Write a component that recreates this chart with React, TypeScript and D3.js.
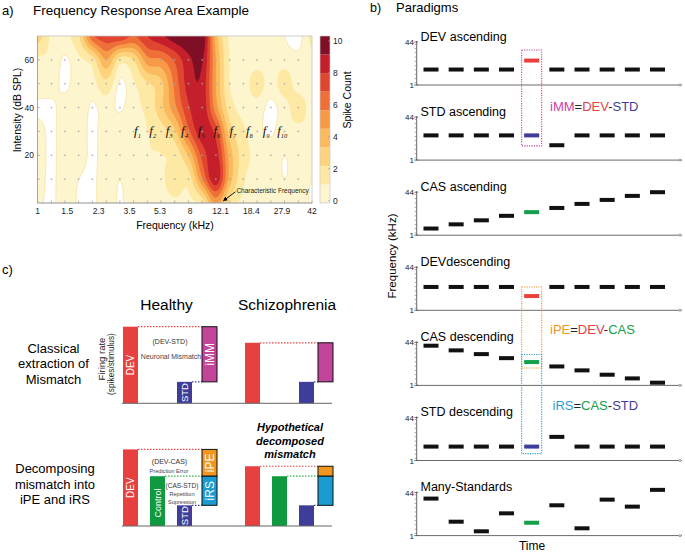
import React from 'react';
import * as d3 from 'd3';

const FONT = "'Liberation Sans', Arial, Helvetica, sans-serif";
const SERIF = "'Liberation Serif', 'Times New Roman', serif";

// ---------------- Panel a: Frequency Response Area ----------------
const freqGrid = [1, 1.21, 1.45, 1.75, 2.11, 2.55, 3.07, 3.7, 4.46, 5.38, 6.48, 7.81, 9.42, 11.35, 13.69, 16.5, 19.89, 23.98, 28.9, 34.84, 42];
const intensityGrid = [70, 60, 50, 40, 30, 20, 10, 0];
const spikeAt70 = [2.8, 0.8, 0.8, 2.0, 6.5, 7.5, 7.8, 6.8, 8.0, 8.9, 9.8, 10.3, 10.2, 4.0, 0.8, 0.7, 0.7, 0.7, 0.3, 0.0, 1.3];
const spikeAt60 = [0.8, 0.8, 0.2, 0.8, 1.6, 4.5, 1.6, 2.2, 5.2, 5.5, 7.0, 8.8, 9.3, 4.5, 1.0, 0.7, 0.7, 0.7, 0.7, 0.5, 0.7];
const spikeAt50 = [0.8, 0.7, 0.1, 0.8, 0.7, 1.8, 0.2, 0.9, 2.0, 3.0, 6.0, 8.5, 8.8, 4.5, 1.0, 0.7, 1.4, 0.7, 1.4, 0.7, 0.7];
const spikeAt40 = [0.1, 0.1, 0.7, 0.8, 0.2, 0.6, 0.2, 0.8, 1.3, 3.0, 5.3, 7.8, 8.8, 5.0, 1.6, 0.7, 0.7, 0.1, 0.7, 1.4, 0.7];
const spikeAt30 = [0.7, 0.1, 0.8, 0.8, 0.1, 0.8, 0.8, 0.8, 1.0, 1.6, 3.0, 6.5, 8.7, 7.5, 2.8, 1.2, 0.5, 0.2, 0.7, 0.8, 0.8];
const spikeAt20 = [0.8, 0.1, 0.8, 0.8, 0.1, 0.8, 0.6, 0.8, 1.0, 1.0, 1.4, 3.5, 7.2, 8.5, 4.0, 1.6, 0.7, 0.7, 0.3, 0.7, 0.7];
const spikeAt10 = [0.7, 0.1, 0.8, 0.3, 0.1, 0.8, 0.3, 0.8, 1.0, 0.8, 1.8, 1.5, 5.5, 8.8, 4.0, 1.2, 0.7, 0.8, 0.3, 0.7, 0.3];
const spikeAt0 = [0.5, 0.1, 0.8, 0.2, 0.1, 0.8, 0.2, 0.8, 0.8, 0.7, 0.8, 0.8, 1.5, 5.0, 1.8, 0.8, 0.7, 0.8, 0.7, 0.7, 0.2];
const freqTickLabels = [1, 1.5, 2.3, 3.5, 5.3, 8, 12.1, 18.4, 27.9, 42];
const intensityTicks = [20, 40, 60];
const intensityMinorTicks = [10, 20, 30, 40, 50, 60];
const colorbarTicks = [0, 2, 4, 6, 8, 10];
const spikeLevels = [-0.14, 1.02, 2.18, 3.34, 4.5, 5.66, 6.82, 7.98, 9.14, 10.3];
const whiteCutoff = 0.3;
const levelColors = ['#fdf5cd', '#fde8a4', '#fdd47d', '#fbba5d', '#f69a47', '#ee7038', '#e0452f', '#c41f2b', '#7e0f24'];
const toneLabelNames = ['1', '2', '3', '4', '5', '6', '7', '8', '9', '10'];
const toneLabelFreqs = [3.9, 4.8, 6.0, 7.4, 9.3, 11.5, 14.3, 17.9, 22.5, 28.0];
const toneLabelIntensity = 30;
const characteristicFreq = 12.4;
const characteristicIntensity = 0.5;

// ---------------- Panel b: Paradigms ----------------
const toneIndex = [1, 2, 3, 4, 5, 6, 7, 8, 9, 10];
const paradigmNames = ['DEV ascending', 'STD ascending', 'CAS ascending', 'DEVdescending', 'CAS descending', 'STD descending', 'Many-Standards'];
const devAscending = [3.9, 3.9, 3.9, 3.9, 8.6, 3.9, 3.9, 3.9, 3.9, 3.9];
const stdAscending = [8.8, 8.8, 8.8, 8.8, 8.8, 3.7, 8.8, 8.8, 8.8, 8.8];
const casAscending = [1.8, 2.6, 3.7, 5.5, 7.6, 11, 15.7, 22.3, 31.8, 44];
const devDescending = [7.8, 7.8, 7.8, 7.8, 3.5, 7.8, 7.8, 7.8, 7.8, 7.8];
const casDescending = [32.9, 21.8, 15.7, 11.0, 7.8, 5.3, 3.75, 2.56, 1.85, 1.27];
const stdDescending = [3.4, 3.4, 3.4, 3.4, 3.4, 8.0, 3.4, 3.4, 3.4, 3.4];
const manyStandards = [26, 3.4, 1.46, 7.1, 3.1, 14.4, 1.9, 23.7, 12.8, 56];
const highlightRole = ['DEV', 'STD', 'CAS', 'DEV', 'CAS', 'STD', 'CAS'];
const highlightTone = 5;
const freqAxisLabels = [44, 1];

// ---------------- Panel c: Mismatch ----------------
const groups = ['Healthy', 'Schizophrenia'];
const barCategories = ['DEV', 'Control', 'STD'];
const classicalDEV = [10, 7.9];
const classicalSTD = [2.8, 2.8];
const decompDEV = [10, 7.8];
const decompControl = [6.5, 6.5];
const decompSTD = [2.7, 2.7];

const C_RED = '#e8403f';
const C_BLUE = '#3e3d9a';
const C_GREEN = '#0f9a40';
const C_MAG = '#c0449a';
const C_ORANGE = '#f0961e';
const C_CYAN = '#1a9bd1';

function upsample(grid: number[][], K: number) {
  const rows = grid.length, cols = grid[0].length;
  const nx = (cols - 1) * K + 1, ny = (rows - 1) * K + 1;
  const get = (r: number, c: number) => grid[Math.max(0, Math.min(rows - 1, r))][Math.max(0, Math.min(cols - 1, c))];
  const cub = (p0: number, p1: number, p2: number, p3: number, t: number) =>
    p1 + 0.5 * t * (p2 - p0 + t * (2 * p0 - 5 * p1 + 4 * p2 - p3 + t * (3 * (p1 - p2) + p3 - p0)));
  const out: number[] = new Array(nx * ny);
  for (let j = 0; j < ny; j++) {
    const fy = j / K;
    const r = Math.min(Math.floor(fy), rows - 2);
    const ty = fy - r;
    for (let i = 0; i < nx; i++) {
      const fx = i / K;
      const c = Math.min(Math.floor(fx), cols - 2);
      const tx = fx - c;
      const rv = [-1, 0, 1, 2].map(d => cub(get(r + d, c - 1), get(r + d, c), get(r + d, c + 1), get(r + d, c + 2), tx));
      out[j * nx + i] = cub(rv[0], rv[1], rv[2], rv[3], ty);
    }
  }
  return { values: out, nx, ny };
}

function PanelA() {
  const x0 = 37.5, x1 = 312, yTop = 36, yBot = 203;
  const xScale = d3.scaleLog().domain([1, 42]).range([x0, x1]);
  const yScale = d3.scaleLinear().domain([0, 70]).range([yBot, yTop]);
  const grid = [spikeAt70, spikeAt60, spikeAt50, spikeAt40, spikeAt30, spikeAt20, spikeAt10, spikeAt0];
  const K = 6;
  const { values, nx, ny } = upsample(grid, K);
  const thresholds = [whiteCutoff, ...spikeLevels.slice(1, 9)];
  const contours = d3.contours().size([nx, ny]).thresholds(thresholds)(values);
  const gx0 = xScale(freqGrid[0]), gx1 = xScale(freqGrid[freqGrid.length - 1]);
  const gy0 = yScale(intensityGrid[0]), gy1 = yScale(intensityGrid[intensityGrid.length - 1]);
  const dxu = (gx1 - gx0) / (nx - 1);
  const dyu = (gy1 - gy0) / (ny - 1);
  const proj = d3.geoTransform({
    point(x: number, y: number) {
      (this as any).stream.point(gx0 + (x - 0.5) * dxu, gy0 + (y - 0.5) * dyu);
    },
  });
  const path = d3.geoPath(proj as any);
  const cbX = 320, cbW = 10;
  const cbScale = d3.scaleLinear().domain([spikeLevels[0], spikeLevels[spikeLevels.length - 1]]).range([yBot, yTop]);
  const tipX = xScale(characteristicFreq), tipY = yScale(characteristicIntensity);

  return (
    <g>
      <text x={2} y={14.5} fontSize={13}>a)</text>
      <text x={33} y={14.5} fontSize={13.5}>Frequency Response Area Example</text>
      <defs>
        <clipPath id="fraClip"><rect x={x0} y={yTop} width={x1 - x0} height={yBot - yTop} /></clipPath>
        <marker id="arrowHead" viewBox="0 0 10 10" refX={9} refY={5} markerWidth={5} markerHeight={5} orient="auto">
          <path d="M0,0 L10,5 L0,10 z" fill="#000" />
        </marker>
      </defs>
      <g clipPath="url(#fraClip)">
        {contours.map((c, i) => (
          <path key={i} d={path(c as any) || ''} fill={levelColors[i]}
            stroke={i === 0 ? '#f8df98' : 'none'} strokeWidth={0.7} />
        ))}
      </g>
      {freqGrid.slice(1, -1).map((f, i) =>
        intensityMinorTicks.map(db => (
          <g key={`g${i}-${db}`} stroke="#a8a8a8" strokeWidth={0.6}>
            <line x1={xScale(f) - 1} x2={xScale(f) + 1} y1={yScale(db)} y2={yScale(db)} />
            <line x1={xScale(f)} x2={xScale(f)} y1={yScale(db) - 1} y2={yScale(db) + 1} />
          </g>
        )))}
      <rect x={x0} y={yTop} width={x1 - x0} height={yBot - yTop} fill="none" stroke="#c4c4c4" strokeWidth={0.8} />
      <line x1={x0} x2={x1} y1={yBot} y2={yBot} stroke="#9a9a9a" strokeWidth={0.8} />
      <line x1={x0} x2={x0} y1={yTop} y2={yBot} stroke="#9a9a9a" strokeWidth={0.8} />
      {freqGrid.map((f, i) => (
        <line key={`bt${i}`} x1={xScale(f)} x2={xScale(f)} y1={yBot} y2={yBot - 2.5} stroke="#999" strokeWidth={0.7} />
      ))}
      {intensityMinorTicks.map(db => (
        <line key={`lt${db}`} x1={x0} x2={x0 + 2.5} y1={yScale(db)} y2={yScale(db)} stroke="#999" strokeWidth={0.7} />
      ))}
      {freqTickLabels.map(f => (
        <text key={`fl${f}`} x={xScale(f)} y={214} fontSize={8.5} textAnchor="middle" fill="#222">{f}</text>
      ))}
      {intensityTicks.map(db => (
        <text key={`il${db}`} x={34} y={yScale(db) + 3} fontSize={8.5} textAnchor="end" fill="#222">{db}</text>
      ))}
      <text x={175} y={229} fontSize={10.5} textAnchor="middle">Frequency (kHz)</text>
      <text transform={`translate(21,110) rotate(-90)`} fontSize={10.5} textAnchor="middle">Intensity (dB SPL)</text>
      {toneLabelFreqs.map((f, i) => (
        <text key={`tl${i}`} x={xScale(f)} y={yScale(toneLabelIntensity) + 4} fontSize={13} fontFamily={SERIF}
          fontStyle="italic" textAnchor="middle" fill="#111">
          f<tspan fontSize={6.5} dy={2.5}>{toneLabelNames[i]}</tspan>
        </text>
      ))}
      <line x1={tipX + 13} y1={tipY - 10} x2={tipX + 1} y2={tipY - 1} stroke="#000" strokeWidth={0.9} markerEnd="url(#arrowHead)" />
      <text x={tipX + 14} y={tipY - 8.5} fontSize={6.5} fill="#222">Characteristic Frequency</text>
      {levelColors.map((c, i) => (
        <rect key={`cb${i}`} x={cbX} width={cbW} y={cbScale(spikeLevels[i + 1])}
          height={cbScale(spikeLevels[i]) - cbScale(spikeLevels[i + 1])} fill={c} />
      ))}
      <rect x={cbX} y={yTop} width={cbW} height={yBot - yTop} fill="none" stroke="#c8c8c8" strokeWidth={0.7} />
      {colorbarTicks.map(v => (
        <g key={`cbt${v}`}>
          <line x1={cbX + cbW - 2} x2={cbX + cbW} y1={cbScale(v)} y2={cbScale(v)} stroke="#999" strokeWidth={0.6} />
          <text x={cbX + cbW + 3} y={cbScale(v) + 3} fontSize={8.5} fill="#222">{v}</text>
        </g>
      ))}
      <text transform={`translate(351,100) rotate(-90)`} fontSize={10.5} textAnchor="middle">Spike Count</text>
    </g>
  );
}

function PanelB() {
  const xT = d3.scalePoint<number>().domain(toneIndex).range([431, 657.5]);
  const axisX = 416.7, axisEnd = 682;
  const series = [devAscending, stdAscending, casAscending, devDescending, casDescending, stdDescending, manyStandards];
  const roleColor: Record<string, string> = { DEV: C_RED, STD: C_BLUE, CAS: '#14a04a' };
  const panels = series.map((vals, k) => {
    const base = 85 + 75.1 * k;
    const y = d3.scaleLog().domain([1, 44]).range([base, base - 43]);
    return { vals, base, y, k };
  });
  const hx = xT(highlightTone) as number;
  const hy = (k: number) => panels[k].y(series[k][highlightTone - 1]);
  const boxes = [
    { top: hy(0) - 10.5, bottom: hy(1) + 10.5, color: C_MAG },
    { top: hy(3) - 9, bottom: hy(4) + 6, color: C_ORANGE },
    { top: hy(4) - 7.5, bottom: hy(5) + 7, color: '#2aa0d8' },
  ];
  return (
    <g>
      <text x={370} y={12} fontSize={12.5}>b)</text>
      <text x={396} y={12} fontSize={13}>Paradigms</text>
      {panels.map(p => (
        <g key={p.k}>
          <text x={420.5} y={p.base - 43 - 1.5} fontSize={12.5}>{paradigmNames[p.k]}</text>
          <line x1={axisX} x2={axisX} y1={p.base - 44} y2={p.base} stroke="#444" strokeWidth={0.8} />
          <line x1={axisX} x2={axisEnd} y1={p.base} y2={p.base} stroke="#444" strokeWidth={0.8} />
          <circle cx={axisEnd - 2} cy={p.base} r={1.1} fill="#fff" stroke="#666" strokeWidth={0.6} />
          {toneIndex.map(t => (
            <line key={`mt${t}`} x1={axisX - 2} x2={axisX} y1={p.base - 43 * (t - 0.5) / 10} y2={p.base - 43 * (t - 0.5) / 10}
              stroke="#666" strokeWidth={0.6} />
          ))}
          {freqAxisLabels.map(f => (
            <g key={`fa${f}`}>
              <line x1={axisX - 2.5} x2={axisX + 1.5} y1={p.y(f)} y2={p.y(f)} stroke="#444" strokeWidth={0.7} />
              <text x={414} y={p.y(f) + 3} fontSize={8} textAnchor="end" fill="#222">{f}</text>
            </g>
          ))}
          {p.vals.map((v, i) => {
            const isHi = toneIndex[i] === highlightTone;
            return (
              <rect key={`t${i}`} x={(xT(toneIndex[i]) as number) - 7.5} width={15} y={p.y(v) - 2} height={4}
                fill={isHi ? roleColor[highlightRole[p.k]] : '#111'} />
            );
          })}
        </g>
      ))}
      {boxes.map((b, i) => (
        <rect key={`bx${i}`} x={hx - 10} width={20} y={b.top} height={b.bottom - b.top} fill="none"
          stroke={b.color} strokeWidth={1.1} strokeDasharray="1.2,1.2" />
      ))}
      <text x={550} y={110.5} fontSize={13}>
        <tspan fill="#cc3fa0">iMM</tspan><tspan fill="#222">=</tspan><tspan fill={C_RED}>DEV</tspan>
        <tspan fill="#222">-</tspan><tspan fill={C_BLUE}>STD</tspan>
      </text>
      <text x={550} y={334} fontSize={13}>
        <tspan fill={C_ORANGE}>iPE</tspan><tspan fill="#222">=</tspan><tspan fill={C_RED}>DEV</tspan>
        <tspan fill="#222">-</tspan><tspan fill="#14a04a">CAS</tspan>
      </text>
      <text x={552.5} y={409.5} fontSize={13}>
        <tspan fill="#2aa0d8">iRS</tspan><tspan fill="#222">=</tspan><tspan fill="#14a04a">CAS</tspan>
        <tspan fill="#222">-</tspan><tspan fill={C_BLUE}>STD</tspan>
      </text>
      <text transform={`translate(396,256) rotate(-90)`} fontSize={11.5} textAnchor="middle">Frequency (kHz)</text>
      <text x={532} y={550} fontSize={12} textAnchor="middle">Time</text>
    </g>
  );
}

function VLabel({ x, y, text, size, color = '#fff', weight }: any) {
  return (
    <text transform={`translate(${x},${y}) rotate(-90)`} fontSize={size} fill={color} textAnchor="middle"
      dominantBaseline="central" fontWeight={weight}>{text}</text>
  );
}

function PanelC() {
  const h = d3.scaleLinear().domain([0, 10]).range([0, 76.6]);
  const groupRanges: [number, number][] = [[123, 192], [245, 314]];
  const boxX = [202, 318];
  const boxW = 15;
  const bands = groupRanges.map(r => d3.scaleBand<string>().domain(barCategories).range(r).paddingInner(0.444).paddingOuter(0));
  const baseA = 403.3, baseB = 526;
  const dot = { strokeWidth: 1.2, strokeDasharray: '1.5,1.5' };

  return (
    <g>
      <text x={2} y={274} fontSize={13}>c)</text>
      <text x={166.5} y={309.5} fontSize={15.5} textAnchor="middle">{groups[0]}</text>
      <text x={287} y={309.5} fontSize={15.5} textAnchor="middle">{groups[1]}</text>
      <g fontSize={13} textAnchor="middle">
        <text x={53.5} y={353}>Classical</text>
        <text x={53.5} y={368.3}>extraction of</text>
        <text x={53.5} y={383.6}>Mismatch</text>
        <text x={55} y={473}>Decomposing</text>
        <text x={55} y={488.5}>mismatch into</text>
        <text x={55} y={504}>iPE and iRS</text>
      </g>
      <g fontSize={11} fontWeight="bold" fontStyle="italic" textAnchor="middle">
        <text x={290} y={431}>Hypothetical</text>
        <text x={290} y={444.5}>decomposed</text>
        <text x={290} y={458}>mismatch</text>
      </g>
      <VLabel x={101} y={359} text="Firing rate" size={9.5} color="#222" />
      <VLabel x={110.5} y={364} text="(spikes/stimulus)" size={8.3} color="#222" />

      {groups.map((g, gi) => {
        const b = bands[gi];
        const bw = b.bandwidth();
        const devTop = baseA - h(classicalDEV[gi]);
        const stdTop = baseA - h(classicalSTD[gi]);
        const xd = b('DEV') as number, xs = b('STD') as number;
        return (
          <g key={`ca${g}`}>
            <rect x={xd} y={devTop} width={bw} height={h(classicalDEV[gi])} fill={C_RED} />
            <rect x={xs} y={stdTop} width={bw} height={h(classicalSTD[gi])} fill={C_BLUE} />
            <line x1={xd + bw} x2={boxX[gi]} y1={devTop} y2={devTop} stroke={C_RED} {...dot} />
            <line x1={xs + bw} x2={boxX[gi]} y1={stdTop} y2={stdTop} stroke={C_BLUE} {...dot} />
            <rect x={boxX[gi]} y={devTop} width={boxW} height={stdTop - devTop} fill={C_MAG} stroke="#111" strokeWidth={1} />
            {gi === 0 && (
              <g>
                <VLabel x={xd + bw / 2} y={(devTop + baseA) / 2} text="DEV" size={10} />
                <VLabel x={xs + bw / 2} y={(stdTop + baseA) / 2} text="STD" size={9.5} />
                <VLabel x={boxX[gi] + boxW / 2} y={(devTop + stdTop) / 2} text="iMM" size={12} />
              </g>
            )}
          </g>
        );
      })}
      <line x1={122} x2={332} y1={baseA} y2={baseA} stroke="#666" strokeWidth={1} />
      <text x={170} y={344} fontSize={7} textAnchor="middle" fill="#333">(DEV-STD)</text>
      <text x={171} y={358.5} fontSize={7} textAnchor="middle" fill="#444">Neuronal Mismatch</text>

      {groups.map((g, gi) => {
        const b = bands[gi];
        const bw = b.bandwidth();
        const devTop = baseB - h(decompDEV[gi]);
        const ctlTop = baseB - h(decompControl[gi]);
        const stdTop = baseB - h(decompSTD[gi]);
        const xd = b('DEV') as number, xc = b('Control') as number, xs = b('STD') as number;
        return (
          <g key={`cb${g}`}>
            <rect x={xd} y={devTop} width={bw} height={h(decompDEV[gi])} fill={C_RED} />
            <rect x={xc} y={ctlTop} width={bw} height={h(decompControl[gi])} fill={C_GREEN} />
            <rect x={xs} y={stdTop} width={bw} height={h(decompSTD[gi])} fill={C_BLUE} />
            <line x1={xd + bw} x2={boxX[gi]} y1={devTop} y2={devTop} stroke={C_RED} {...dot} />
            <line x1={xc + bw} x2={boxX[gi]} y1={ctlTop} y2={ctlTop} stroke="#2fb04a" {...dot} />
            <line x1={xs + bw} x2={boxX[gi]} y1={stdTop} y2={stdTop} stroke={C_BLUE} {...dot} />
            <rect x={boxX[gi]} y={devTop} width={boxW} height={ctlTop - devTop} fill={C_ORANGE} stroke="#111" strokeWidth={1} />
            <rect x={boxX[gi]} y={ctlTop} width={boxW} height={stdTop - ctlTop} fill={C_CYAN} stroke="#111" strokeWidth={1} />
            {gi === 0 && (
              <g>
                <VLabel x={xd + bw / 2} y={(devTop + baseB) / 2} text="DEV" size={10} />
                <VLabel x={xc + bw / 2} y={(ctlTop + baseB) / 2 + 2} text="Control" size={9} />
                <VLabel x={xs + bw / 2} y={(stdTop + baseB) / 2} text="STD" size={9.5} />
                <VLabel x={boxX[gi] + boxW / 2} y={(devTop + ctlTop) / 2} text="iPE" size={12} />
                <VLabel x={boxX[gi] + boxW / 2} y={(ctlTop + stdTop) / 2} text="iRS" size={12} />
              </g>
            )}
          </g>
        );
      })}
      <line x1={122} x2={332} y1={baseB} y2={baseB} stroke="#666" strokeWidth={1} />
      <text x={169.5} y={463.5} fontSize={7} textAnchor="middle" fill="#333">(DEV-CAS)</text>
      <text x={169} y={473} fontSize={5.6} textAnchor="middle" fill="#444">Prediction Error</text>
      <text x={182} y={487.5} fontSize={6.5} textAnchor="middle" fill="#333">(CAS-STD)</text>
      <text x={182} y={495.5} fontSize={5.6} textAnchor="middle" fill="#444">Repetition</text>
      <text x={182} y={504} fontSize={5.6} textAnchor="middle" fill="#444">Supression</text>
    </g>
  );
}

export default function App() {
  return (
    <svg width={685} height={552} style={{ position: 'absolute', left: 0, top: 0, background: '#fff' }} fontFamily={FONT}>
      <rect x={0} y={0} width={685} height={552} fill="#fff" />
      <PanelA />
      <PanelB />
      <PanelC />
    </svg>
  );
}
